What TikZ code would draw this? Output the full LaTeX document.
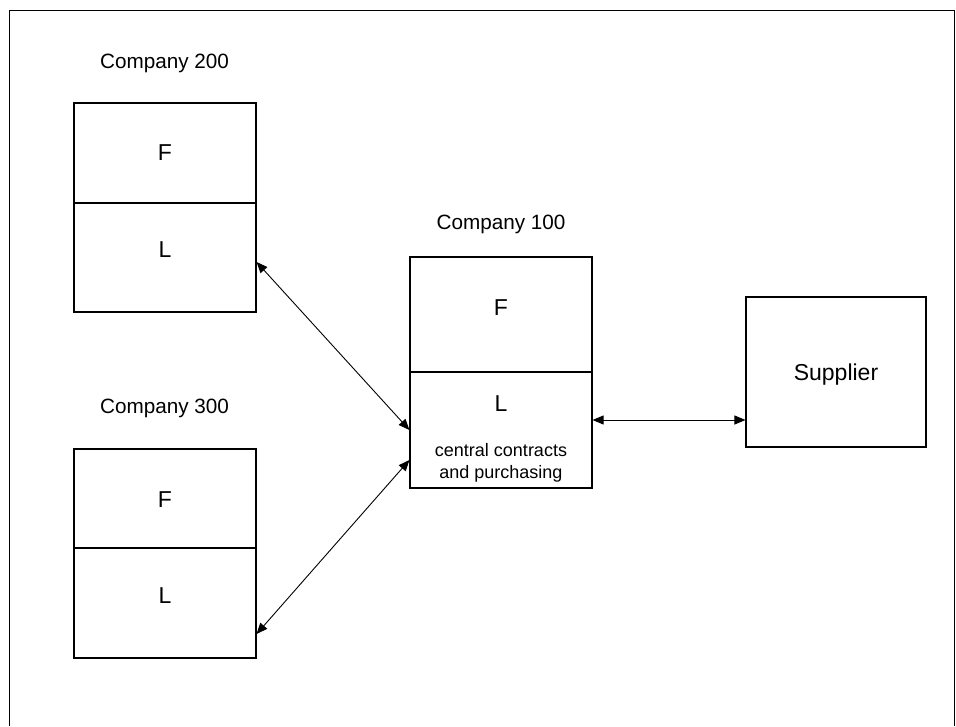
\documentclass[tikz,border=0pt]{standalone}
\usepackage{fontspec}
\setmainfont{Liberation Sans}
\usetikzlibrary{arrows.meta}
\begin{document}
\begin{tikzpicture}[x=1pt,y=-1pt,
  box/.style={draw, line width=1.1pt, rectangle, inner sep=0pt, minimum width=182pt},
  conn/.style={line width=0.9pt, {Triangle[length=11pt,width=9pt]}-{Triangle[length=11pt,width=9pt]}},
  comptitle/.style={inner sep=0pt, anchor=base, font=\fontsize{20.7}{24}\selectfont},
  part/.style={inner sep=0pt, anchor=base, font=\fontsize{23}{26}\selectfont},
  smalltext/.style={inner sep=0pt, anchor=base, font=\fontsize{18}{21}\selectfont}]
\useasboundingbox (0,0) rectangle (956,726);
\draw[line width=1.3pt] (9.7,726) -- (9.7,10.7) -- (954.3,10.7) -- (954.3,726);

% boxes
\node[box, minimum height=100pt] (c200f) at (165,153) {};
\node[box, minimum height=109pt] (c200l) at (165,257.5) {};
\node[box, minimum height=99pt] (c300f) at (165,498.5) {};
\node[box, minimum height=110pt] (c300l) at (165,603) {};
\node[box, minimum height=115pt] (c100f) at (501,314.5) {};
\node[box, minimum height=116pt] (c100l) at (501,430) {};
\node[box, minimum width=180pt, minimum height=150pt] (sup) at (836,372) {};

% texts
\node[comptitle] (t200) at (164.5,68) {Company 200};
\node[comptitle] (t300) at (164.5,413) {Company 300};
\node[comptitle] (t100) at (501,229.5) {Company 100};
\node[part] (f200) at (165,160.7) {F};
\node[part] (l200) at (165,257.3) {L};
\node[part] (f300) at (165,507) {F};
\node[part] (l300) at (165,603) {L};
\node[part] (f100) at (501,315) {F};
\node[part] (l100) at (501,411) {L};
\node[smalltext] (cc1) at (501,456.7) {central contracts};
\node[smalltext] (cc2) at (501,478) {and purchasing};
\node[part] (supt) at (836,380.5) {Supplier};

% connectors
\draw[conn] ([yshift=-4.5pt]c200l.east) -- (c100l.west);
\draw[conn] ([yshift=-31pt]c300l.east) -- ([yshift=-30pt]c100l.west);
\coordinate (h) at ([yshift=10pt]c100l.east);
\draw[conn] (h) -- (h -| sup.west);
\end{tikzpicture}
\end{document}
